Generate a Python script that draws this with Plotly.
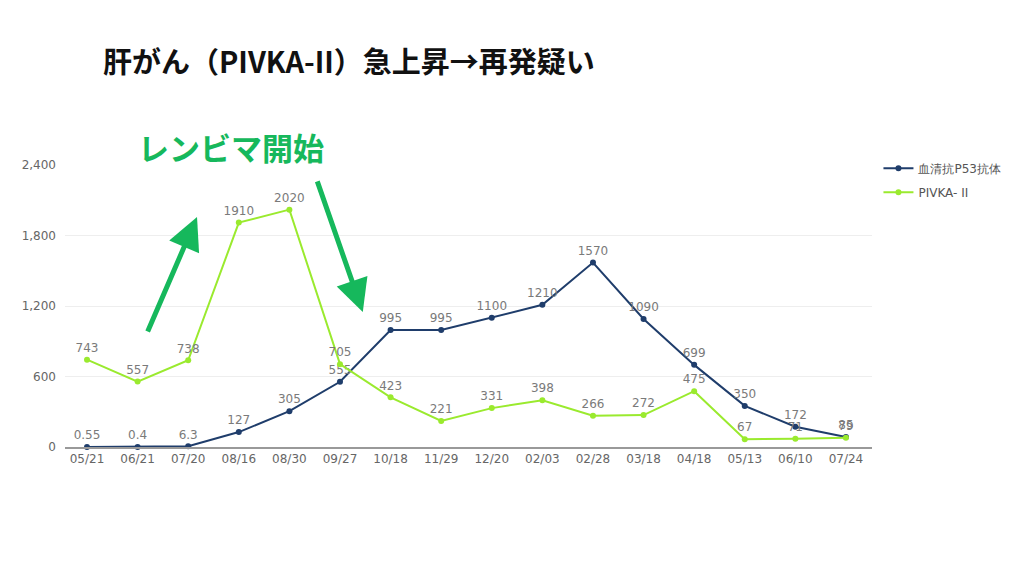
import plotly.graph_objects as go

dates = ["05/21", "06/21", "07/20", "08/16", "08/30", "09/27", "10/18", "11/29",
         "12/20", "02/03", "02/28", "03/18", "04/18", "05/13", "06/10", "07/24"]
p53 = [0.55, 0.4, 6.3, 127, 305, 555, 995, 995, 1100, 1210, 1570, 1090, 699, 350, 172, 85]
pivka = [743, 557, 738, 1910, 2020, 705, 423, 221, 331, 398, 266, 272, 475, 67, 71, 79]

title_text = "肝がん（PIVKA-II）急上昇→再発疑い"
note_text = "レンビマ開始"

BLUE = "#1f3d6b"
LIME = "#9aea2e"
ARROW = "#16b85c"
LABEL_FONT = dict(family="DejaVu Sans", size=12, color="#7a7a7a")

fig = go.Figure()
fig.add_trace(go.Scatter(
    x=dates, y=p53, name="血清抗P53抗体", mode="lines+markers+text",
    text=[str(v) for v in p53], textposition="top center", textfont=LABEL_FONT,
    line=dict(color=BLUE, width=2), marker=dict(color=BLUE, size=6),
    cliponaxis=False, legendgroup="p53",
))
fig.add_trace(go.Scatter(
    x=dates, y=pivka, name="PIVKA- II", mode="lines+markers+text",
    text=[str(v) for v in pivka], textposition="top center", textfont=LABEL_FONT,
    line=dict(color=LIME, width=2), marker=dict(color=LIME, size=6),
    cliponaxis=False, legendgroup="pivka",
))

# page body adds ~8px offset, so margins are trimmed by that much
fig.update_layout(
    width=1024, height=576,
    margin=dict(l=57, r=160, t=157, b=137),
    plot_bgcolor="white", paper_bgcolor="white",
    font=dict(family="DejaVu Sans", color="#666666", size=12),
    showlegend=True,
    legend=dict(x=1.008, y=1.04, xanchor="left", yanchor="top",
                font=dict(size=12, color="#555555"), tracegroupgap=5,
                bgcolor="rgba(0,0,0,0)"),
)
fig.update_xaxes(
    type="category", range=[-0.435, 15.515], showgrid=False,
    showline=True, linecolor="#999999", linewidth=1.5, ticks="",
    tickfont=dict(size=12, color="#666666"), zeroline=False,
)
fig.update_yaxes(
    range=[0, 2400], dtick=600, tickformat=",", showgrid=True,
    gridcolor="#eeeeee", zeroline=False, showline=False, ticks="",
    tickfont=dict(size=12, color="#666666"), ticklabelstandoff=8,
)

fig.add_annotation(
    text="<b>" + title_text + "</b>", xref="paper", yref="paper", x=0.352, y=1.372,
    showarrow=False, font=dict(family="Noto Sans CJK JP", size=29, color="#111111"),
    xanchor="center", yanchor="middle",
)
fig.add_annotation(
    text="<b>" + note_text + "</b>", xref="paper", yref="paper", x=0.2057, y=1.064,
    showarrow=False, font=dict(family="Noto Sans CJK JP", size=31, color=ARROW),
    xanchor="center", yanchor="middle",
)
fig.add_annotation(
    xref="paper", yref="paper", x=0.1636, y=0.8156, ax=-50, ay=116, text="",
    showarrow=True, arrowhead=2, arrowsize=1.3, arrowwidth=5, arrowcolor=ARROW,
)
fig.add_annotation(
    xref="paper", yref="paper", x=0.369, y=0.479, ax=-46, ay=-132, text="",
    showarrow=True, arrowhead=2, arrowsize=1.3, arrowwidth=5, arrowcolor=ARROW,
)

fig.write_html("out.html")
